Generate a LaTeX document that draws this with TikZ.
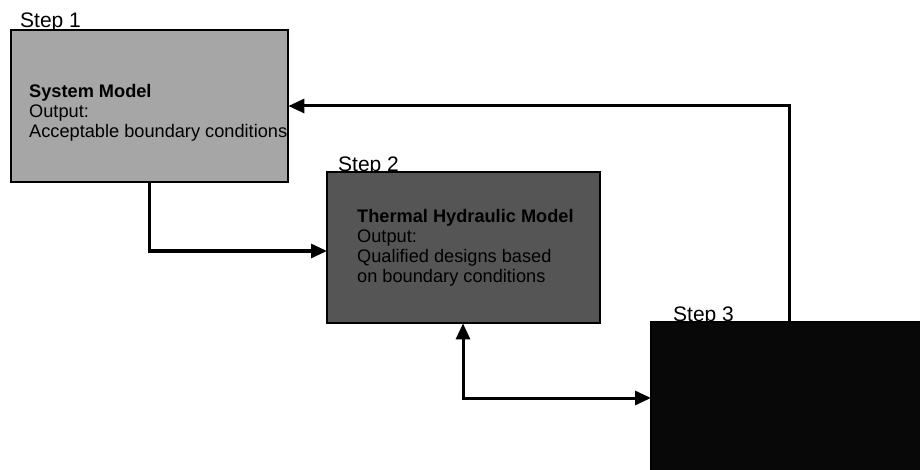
\documentclass[tikz,border=0pt]{standalone}
\usepackage{fontspec}
\setmainfont{Liberation Sans}
\usetikzlibrary{arrows.meta}
\definecolor{boxone}{HTML}{A6A6A6}
\definecolor{boxtwo}{HTML}{555555}
\definecolor{boxthree}{HTML}{080808}
\begin{document}
\begin{tikzpicture}[x=1pt,y=-1pt,
  stepbox/.style={draw=black,line width=2.4pt},
  steplabel/.style={anchor=base west,inner sep=0pt,font=\fontsize{21}{22}\selectfont},
  boxtext/.style={anchor=north west,inner sep=0pt,align=left,font=\fontsize{18.2}{20}\selectfont},
  conn/.style={line width=3pt,-{Triangle[length=16pt,width=14pt]}},
  conn2/.style={line width=3pt,{Triangle[length=16pt,width=14pt]}-{Triangle[length=16pt,width=14pt]}}]
\useasboundingbox (0,0) rectangle (920,470);
\fill[white] (0,0) rectangle (920,470);
% labels (drawn under boxes)
\node[steplabel] (l1) at (20,28) {Step 1};
\node[steplabel] (l2) at (338,172) {Step 2};
\node[steplabel] (l3) at (673,321) {Step 3};
% boxes
\draw[stepbox,fill=boxone] (11,30) rectangle (288,182);
\node[inner sep=0pt,minimum width=277pt,minimum height=152pt,anchor=north west] (box1) at (11,30) {};
\draw[stepbox,fill=boxtwo] (327,172) rectangle (600,323);
\node[inner sep=0pt,minimum width=273pt,minimum height=151pt,anchor=north west] (box2) at (327,172) {};
\begin{scope}
\clip (0,0) rectangle (920,470);
\draw[stepbox,fill=boxthree] (651,322) rectangle (930,480);
\end{scope}
\node[inner sep=0pt,minimum width=269pt,minimum height=148pt,anchor=north west] (box3) at (651,322) {};
% texts
\node[boxtext] (t1) at (29,84) {\textbf{System Model}\\Output:\\Acceptable boundary conditions};
\node[boxtext] (t2) at (357,209) {\textbf{Thermal Hydraulic Model}\\Output:\\Qualified designs based\\on boundary conditions};
% connectors
\coordinate (c1) at (149,251);
\draw[conn] (box1.south -| c1) -- (c1) -- (box2.west |- c1);
\coordinate (c2) at (463,398);
\draw[conn2] (box2.south -| c2) -- (c2) -- (box3.west |- c2);
\coordinate (c3) at (789,106);
\draw[conn] (box3.north -| c3) -- (c3) -- (box1.east |- c3);
\end{tikzpicture}
\end{document}
